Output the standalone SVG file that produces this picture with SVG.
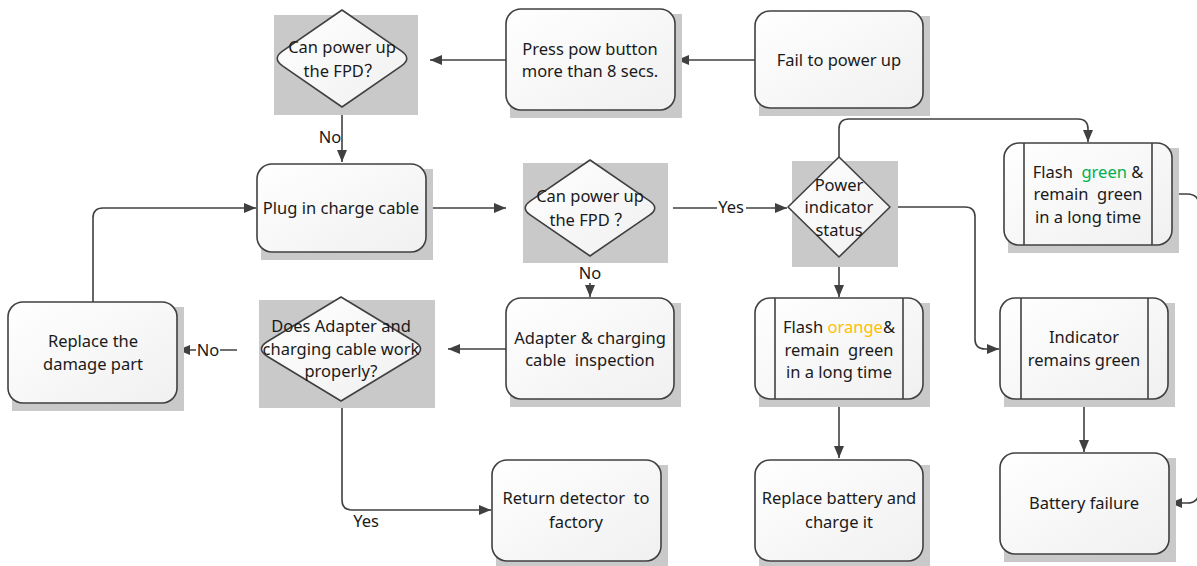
<svg xmlns="http://www.w3.org/2000/svg" width="1197" height="566" viewBox="0 0 1197 566">
  <defs>
    <linearGradient id="boxFill" x1="0" y1="0" x2="1" y2="1">
      <stop offset="0" stop-color="#ffffff"/>
      <stop offset="1" stop-color="#f0f0f0"/>
    </linearGradient>
    <marker id="arrow" viewBox="0 0 12 10" refX="12" refY="5" markerWidth="12" markerHeight="10" markerUnits="userSpaceOnUse" orient="auto">
      <path d="M0,0 L12,5 L0,10 Z" fill="#404040"/>
    </marker>
  </defs>
  <style>
    .shadow { fill: #c9c9c9; }
    .box { fill: url(#boxFill); stroke: #404040; stroke-width: 1.6; }
    .dia { fill: url(#boxFill); stroke: #404040; stroke-width: 1.6; stroke-linejoin: round; }
    .bar { stroke: #404040; stroke-width: 1.6; }
    .conn { fill: none; stroke: #404040; stroke-width: 1.6; marker-end: url(#arrow); }
    text { font-family: "Noto Sans", "Open Sans", "Noto Sans CJK SC", sans-serif; font-size: 16.5px; fill: #1a1a1a; text-anchor: middle; white-space: pre; }
    .cjk { font-family: "Noto Sans CJK SC", sans-serif; }
    .lbl-bg { fill: #ffffff; }
    .green { fill: #00b050; }
    .orange { fill: #ffc000; }
  </style>

  <!-- connectors -->
  <g id="connectors">
    <path class="conn" d="M755,60 H677"/>
    <path class="conn" d="M506,60 H430"/>
    <path class="conn" d="M342,107 V162"/>
    <path class="conn" d="M426,208 H506"/>
    <path class="conn" d="M673,208 H787"/>
    <path class="conn" d="M839,157 V129 Q839,119 849,119 H1078 Q1088,119 1088,129 V142"/>
    <path class="conn" d="M890,207 H965 Q975,207 975,217 V339 Q975,349 985,349 H999"/>
    <path class="conn" d="M839,257 V297"/>
    <path class="conn" d="M1172,194 H1187 Q1199,194 1199,206 V491 Q1199,503 1187,503 H1170"/>
    <path class="conn" d="M590,256 V297"/>
    <path class="conn" d="M506,349 H448"/>
    <path class="conn" d="M237,350 H178"/>
    <path class="conn" d="M93,302 V218 Q93,208 103,208 H256"/>
    <path class="conn" d="M342,401 V500 Q342,510 352,510 H491"/>
    <path class="conn" d="M839,399 V458"/>
    <path class="conn" d="M1084,399 V452"/>
    <!-- connector labels -->
    <text x="330" y="143">No</text>
    <rect class="lbl-bg" x="578" y="263" width="24" height="20"/>
    <text x="590" y="279">No</text>
    <rect class="lbl-bg" x="196" y="341" width="24" height="20"/>
    <text x="208" y="356">No</text>
    <rect class="lbl-bg" x="717" y="198" width="29" height="20"/>
    <text x="731" y="213">Yes</text>
    <text x="366" y="527">Yes</text>
  </g>

  <!-- start -->
  <g id="fail-power-up">
    <rect class="shadow" x="759" y="16" width="171" height="100"/>
    <rect class="box" x="755" y="11" width="168" height="97" rx="15"/>
    <text x="839" y="66">Fail to power up</text>
  </g>

  <g id="press-button">
    <rect class="shadow" x="510" y="14" width="172" height="104"/>
    <rect class="box" x="506" y="9" width="169" height="101" rx="15"/>
    <text x="590" y="55">Press pow button</text>
    <text x="590" y="77">more than 8 secs.</text>
  </g>

  <g id="can-power-up-1">
    <rect class="shadow" x="274" y="15" width="144" height="100"/>
    <path class="dia" d="M342,10 L401.5,51.2 Q412,58.5 401.5,65.8 L342,107 L282.5,65.8 Q272,58.5 282.5,51.2 Z"/>
    <text x="342" y="53">Can power up</text>
    <text x="342" y="77">the FPD<tspan class="cjk">？</tspan></text>
  </g>

  <g id="plug-charge-cable">
    <rect class="shadow" x="261" y="169" width="172" height="91"/>
    <rect class="box" x="257" y="164" width="169" height="88" rx="15"/>
    <text x="341" y="214">Plug in charge cable</text>
  </g>

  <g id="can-power-up-2">
    <rect class="shadow" x="523" y="163" width="145" height="100"/>
    <path class="dia" d="M590,160 L649.5,200.8 Q660,208 649.5,215.2 L590,256 L530.5,215.2 Q520,208 530.5,200.8 Z"/>
    <text x="590" y="202">Can power up</text>
    <text x="590" y="226">the FPD <tspan class="cjk">？</tspan></text>
  </g>

  <g id="power-indicator-status">
    <rect class="shadow" x="792" y="161" width="106" height="106"/>
    <path class="dia" d="M839,157 L890,207 L839,257 L788,207 Z"/>
    <text x="839" y="191">Power</text>
    <text x="839" y="213">indicator</text>
    <text x="839" y="236">status</text>
  </g>

  <g id="flash-green">
    <rect class="shadow" x="1008" y="148" width="171" height="105"/>
    <rect class="box" x="1004" y="143" width="168" height="102" rx="15"/>
    <line class="bar" x1="1024" y1="143" x2="1024" y2="245"/>
    <line class="bar" x1="1152" y1="143" x2="1152" y2="245"/>
    <text x="1088" y="178">Flash  <tspan class="green">green</tspan> &amp;</text>
    <text x="1088" y="200">remain  green</text>
    <text x="1088" y="223">in a long time</text>
  </g>

  <g id="adapter-inspection">
    <rect class="shadow" x="510" y="303" width="171" height="104"/>
    <rect class="box" x="506" y="298" width="168" height="101" rx="15"/>
    <text x="590" y="344">Adapter &amp; charging</text>
    <text x="590" y="366">cable  inspection</text>
  </g>

  <g id="adapter-works">
    <rect class="shadow" x="259" y="300" width="176" height="108"/>
    <path class="dia" d="M341,297 L414.1,341.2 Q427,349 414.1,356.8 L341,401 L267.9,356.8 Q255,349 267.9,341.2 Z"/>
    <text x="341" y="332">Does Adapter and</text>
    <text x="341" y="355">charging cable work</text>
    <text x="341" y="377">properly?</text>
  </g>

  <g id="replace-damage-part">
    <rect class="shadow" x="12" y="307" width="172" height="104"/>
    <rect class="box" x="8" y="302" width="169" height="101" rx="15"/>
    <text x="93" y="347">Replace the</text>
    <text x="93" y="370">damage part</text>
  </g>

  <g id="return-to-factory">
    <rect class="shadow" x="496" y="465" width="172" height="101"/>
    <rect class="box" x="492" y="460" width="169" height="101" rx="15"/>
    <text x="576" y="504">Return detector  to</text>
    <text x="576" y="528">factory</text>
  </g>

  <g id="flash-orange">
    <rect class="shadow" x="759" y="303" width="171" height="104"/>
    <rect class="box" x="755" y="298" width="168" height="101" rx="15"/>
    <line class="bar" x1="775" y1="298" x2="775" y2="399"/>
    <line class="bar" x1="903" y1="298" x2="903" y2="399"/>
    <text x="839" y="333">Flash <tspan class="orange">orange</tspan>&amp;</text>
    <text x="839" y="356">remain  green</text>
    <text x="839" y="378">in a long time</text>
  </g>

  <g id="replace-battery">
    <rect class="shadow" x="759" y="465" width="171" height="101"/>
    <rect class="box" x="755" y="460" width="168" height="101" rx="15"/>
    <text x="839" y="504">Replace battery and</text>
    <text x="839" y="528">charge it</text>
  </g>

  <g id="indicator-green">
    <rect class="shadow" x="1004" y="303" width="171" height="104"/>
    <rect class="box" x="1000" y="298" width="168" height="101" rx="15"/>
    <line class="bar" x1="1021" y1="298" x2="1021" y2="399"/>
    <line class="bar" x1="1148" y1="298" x2="1148" y2="399"/>
    <text x="1084" y="343">Indicator</text>
    <text x="1084" y="366">remains green</text>
  </g>

  <g id="battery-failure">
    <rect class="shadow" x="1004" y="458" width="172" height="104"/>
    <rect class="box" x="1000" y="453" width="169" height="101" rx="15"/>
    <text x="1084" y="509">Battery failure</text>
  </g>
</svg>
